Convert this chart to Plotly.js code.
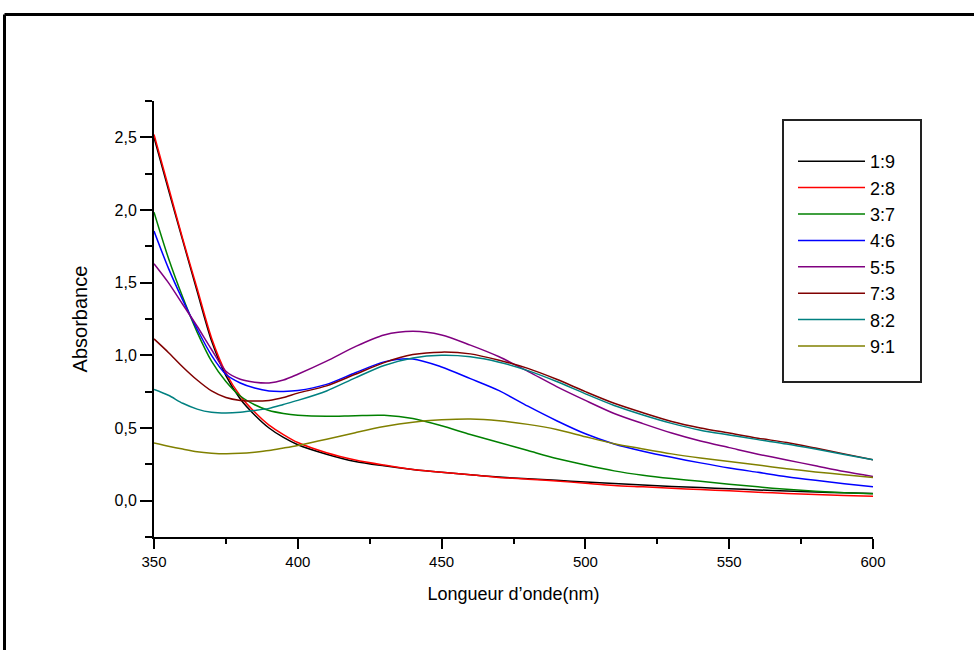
<!DOCTYPE html>
<html>
<head>
<meta charset="utf-8">
<script src="https://cdn.plot.ly/plotly-3.0.1.min.js"></script>
<style>
  html, body { margin: 0; padding: 0; background: #fff; overflow: hidden; }
  #chart { width: 974px; height: 650px; }
</style>
</head>
<body>
<div id="chart"></div>
<script>
// Wavelength (nm)
const wavelength = [350,355,360,365,370,375,380,385,390,395,400,410,420,430,440,450,460,470,480,490,500,510,520,530,540,550,560,570,580,590,600];

const seriesNames = ["1:9","2:8","3:7","4:6","5:5","7:3","8:2","9:1"];
const seriesColors = ["#000000","#ff0000","#008000","#0000ff","#800080","#800000","#008080","#808000"];

const abs_1_9 = [2.50,2.14,1.79,1.44,1.10,0.86,0.70,0.59,0.50,0.435,0.385,0.32,0.27,0.24,0.215,0.195,0.178,0.162,0.150,0.140,0.128,0.118,0.108,0.098,0.090,0.082,0.074,0.067,0.060,0.054,0.050];
const abs_2_8 = [2.52,2.16,1.80,1.46,1.12,0.88,0.72,0.61,0.52,0.455,0.40,0.33,0.28,0.245,0.215,0.195,0.178,0.160,0.148,0.135,0.120,0.105,0.095,0.085,0.076,0.068,0.058,0.050,0.043,0.036,0.030];
const abs_3_7 = [1.985,1.67,1.40,1.16,0.96,0.82,0.72,0.66,0.62,0.60,0.588,0.58,0.585,0.587,0.565,0.515,0.455,0.40,0.345,0.29,0.245,0.205,0.175,0.152,0.133,0.113,0.095,0.078,0.065,0.055,0.048];
const abs_4_6 = [1.855,1.60,1.38,1.18,1.00,0.87,0.81,0.775,0.755,0.752,0.758,0.80,0.88,0.955,0.975,0.92,0.84,0.757,0.65,0.55,0.46,0.39,0.34,0.298,0.26,0.225,0.195,0.165,0.14,0.117,0.096];
const abs_5_5 = [1.63,1.50,1.35,1.20,1.04,0.89,0.835,0.815,0.81,0.83,0.87,0.96,1.06,1.14,1.165,1.14,1.07,0.99,0.89,0.785,0.69,0.60,0.53,0.465,0.41,0.365,0.32,0.28,0.24,0.20,0.167];
const abs_7_3 = [1.113,1.02,0.92,0.83,0.755,0.71,0.69,0.685,0.69,0.71,0.74,0.79,0.87,0.95,1.005,1.022,1.01,0.966,0.91,0.835,0.75,0.67,0.605,0.545,0.50,0.465,0.43,0.40,0.362,0.322,0.282];
const abs_8_2 = [0.765,0.725,0.67,0.63,0.608,0.603,0.608,0.62,0.635,0.662,0.69,0.755,0.845,0.93,0.982,1.0,0.99,0.953,0.895,0.82,0.735,0.655,0.59,0.532,0.485,0.452,0.42,0.39,0.355,0.318,0.282];
const abs_9_1 = [0.397,0.375,0.355,0.337,0.327,0.323,0.326,0.334,0.345,0.362,0.38,0.422,0.468,0.51,0.54,0.556,0.562,0.55,0.525,0.49,0.44,0.392,0.356,0.322,0.294,0.27,0.245,0.22,0.198,0.178,0.16];

const seriesValues = [abs_1_9, abs_2_8, abs_3_7, abs_4_6, abs_5_5, abs_7_3, abs_8_2, abs_9_1];

const xTickVals = [350,400,450,500,550,600];
const yTickVals = [0,0.5,1.0,1.5,2.0,2.5];

const traces = seriesNames.map((name, i) => ({
  type: 'scatter',
  mode: 'lines',
  name: name,
  x: wavelength,
  y: seriesValues[i],
  line: { color: seriesColors[i], width: 1.5, shape: 'spline', smoothing: 0.8 }
}));

// pixel helpers for paper coordinates (plot area 154..873 x 101..537)
const L = 154, R = 873, T = 101, B = 537;
const px = v => (v - L) / (R - L);
const py = v => (B - v) / (B - T);

const layout = {
  width: 974,
  height: 650,
  margin: { l: L, r: 974 - R, t: T, b: 650 - B },
  paper_bgcolor: '#ffffff',
  plot_bgcolor: '#ffffff',
  separators: ', ',
  font: { family: 'Liberation Sans, Arial, sans-serif', color: '#000000', size: 14 },
  showlegend: true,
  legend: {
    x: px(793), y: py(143), xanchor: 'left', yanchor: 'top',
    bgcolor: 'rgba(0,0,0,0)', borderwidth: 0,
    font: { size: 18, family: 'Liberation Sans, Arial, sans-serif' },
    itemwidth: 67
  },
  xaxis: {
    range: [350, 600],
    tickvals: xTickVals,
    ticktext: xTickVals.map(String),
    ticks: 'outside', ticklen: 10, tickwidth: 2, tickcolor: '#000',
    minor: { ticks: 'outside', ticklen: 5, tickwidth: 2, tickcolor: '#000', dtick: 25, tick0: 350 },
    showline: true, linecolor: '#000', linewidth: 2,
    showgrid: false, zeroline: false,
    tickfont: { size: 15 },
    title: { text: 'Longueur d\u2019onde(nm)', font: { size: 18 }, standoff: 18 }
  },
  yaxis: {
    range: [-0.25, 2.75],
    tickvals: yTickVals,
    tickformat: '.1f',
    ticks: 'outside', ticklen: 12, tickwidth: 2, tickcolor: '#000',
    minor: { ticks: 'outside', ticklen: 7, tickwidth: 2, tickcolor: '#000', dtick: 0.25, tick0: 0 },
    showline: true, linecolor: '#000', linewidth: 2,
    showgrid: false, zeroline: false,
    tickfont: { size: 16 },
    title: { text: 'Absorbance', font: { size: 20 }, standoff: 22 }
  },
  shapes: [
    // outer frame (top and left edges visible)
    { type: 'line', xref: 'paper', yref: 'paper', x0: px(4.5), x1: px(1000), y0: py(14.5), y1: py(14.5), line: { color: '#000', width: 3 } },
    { type: 'line', xref: 'paper', yref: 'paper', x0: px(4.5), x1: px(4.5), y0: py(14.5), y1: py(700), line: { color: '#000', width: 3 } },
    // legend box
    { type: 'rect', xref: 'paper', yref: 'paper', x0: px(783), x1: px(921), y0: py(382), y1: py(120), line: { color: '#222', width: 2 }, fillcolor: 'rgba(0,0,0,0)' }
  ]
};

Plotly.newPlot('chart', traces, layout, { displayModeBar: false, staticPlot: true });
</script>
</body>
</html>
